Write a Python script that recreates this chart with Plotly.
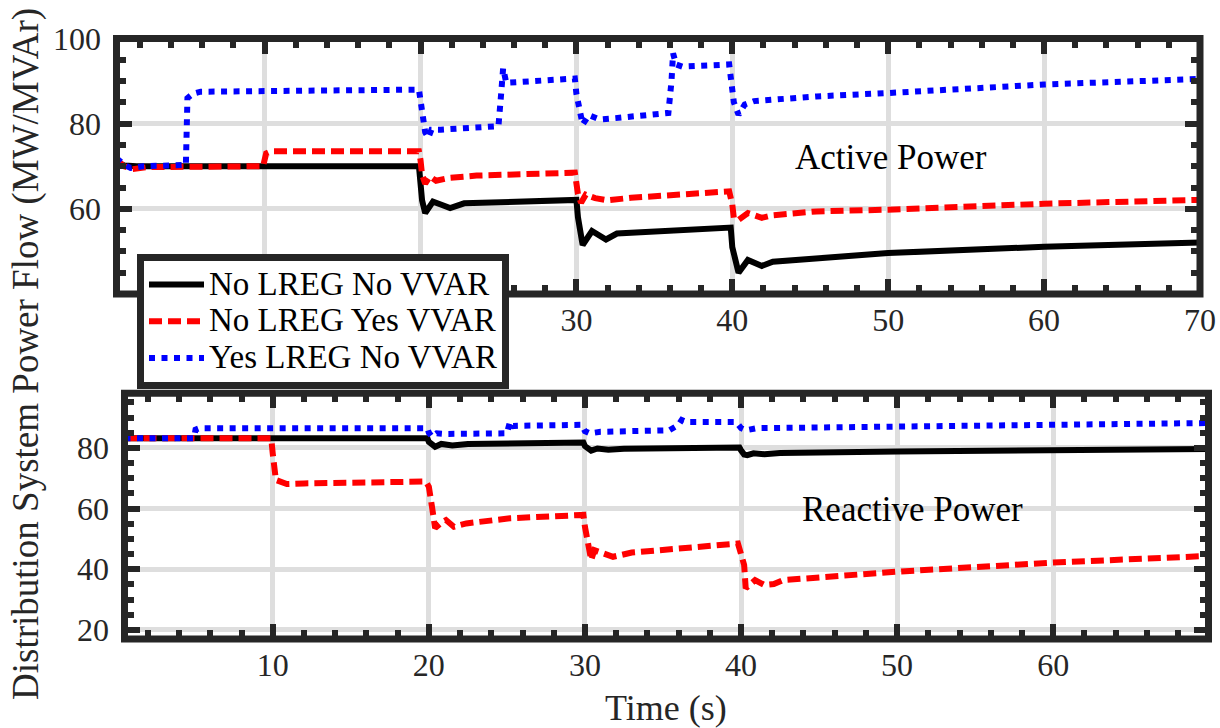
import plotly.graph_objects as go

FONT = "Liberation Serif"
INK = "#262626"

names = ["No LREG No VVAR", "No LREG Yes VVAR", "Yes LREG No VVAR"]

# ---- Active power (top panel) ----
t_p_black = [0.5, 1.0, 1.8, 19.9, 20.0, 20.1, 20.3, 20.8, 21.3, 21.9, 22.8, 30.0, 30.1, 30.2, 30.4, 31.0, 31.9, 32.6, 39.9, 40.0, 40.2, 40.4, 41.0, 41.9, 42.6, 45.0, 50.0, 60.0, 70.0]
p_black = [71.0, 70.2, 70.0, 70.0, 66.0, 62.0, 59.0, 61.7, 61.0, 60.2, 61.3, 62.1, 58.0, 55.0, 51.5, 54.8, 52.8, 54.2, 55.6, 51.0, 48.0, 45.0, 48.0, 46.6, 47.6, 48.3, 49.6, 51.1, 52.1]

t_p_red = [0.5, 1.0, 1.5, 2.5, 9.9, 10.1, 10.4, 19.9, 20.0, 20.1, 20.3, 20.6, 21.0, 21.9, 23.6, 29.9, 30.0, 30.1, 30.3, 30.6, 31.2, 32.0, 33.5, 39.8, 40.0, 40.1, 40.4, 41.0, 41.9, 42.6, 45.4, 50.0, 60.0, 70.0]
p_red = [71.5, 70.0, 69.3, 69.8, 70.0, 73.0, 73.5, 73.5, 71.5, 68.0, 65.9, 67.6, 66.6, 67.3, 67.8, 68.5, 66.0, 63.5, 61.4, 63.3, 62.5, 62.0, 62.6, 64.1, 61.0, 57.8, 57.4, 59.0, 57.9, 58.5, 59.4, 59.8, 61.2, 62.1]

t_p_blue = [0.5, 1.0, 1.4, 2.2, 4.95, 5.05, 5.4, 5.9, 19.9, 20.0, 20.2, 20.3, 20.5, 20.7, 21.3, 25.0, 25.15, 25.3, 25.5, 27.3, 29.9, 30.0, 30.2, 30.4, 30.8, 31.5, 32.5, 35.9, 36.1, 36.2, 36.4, 36.8, 39.8, 40.0, 40.1, 40.4, 40.8, 41.4, 45.4, 50.0, 60.0, 70.0]
p_blue = [71.9, 70.3, 69.6, 70.0, 70.3, 86.0, 87.0, 87.5, 88.0, 85.0, 81.0, 78.0, 76.7, 78.6, 78.6, 79.4, 86.0, 93.0, 89.6, 90.0, 90.6, 87.0, 83.3, 79.8, 82.0, 81.0, 81.3, 82.5, 90.0, 96.5, 93.9, 93.4, 93.9, 88.8, 85.0, 82.1, 84.5, 85.3, 86.4, 87.2, 89.2, 90.5]

# ---- Reactive power (bottom panel) ----
t_q_black = [0.5, 19.9, 20.0, 20.2, 20.4, 20.8, 21.5, 22.5, 29.9, 30.0, 30.2, 30.4, 30.8, 31.5, 32.5, 39.9, 40.0, 40.2, 40.4, 40.8, 41.5, 42.5, 50.0, 60.0, 70.0]
q_black = [83.2, 83.2, 82.0, 81.0, 80.4, 81.3, 80.8, 81.3, 81.8, 80.6, 79.6, 79.1, 79.8, 79.4, 79.7, 80.1, 79.2, 77.8, 77.6, 78.2, 77.9, 78.3, 78.8, 79.2, 79.6]

t_q_red = [0.5, 9.9, 10.0, 10.2, 10.9, 12.0, 19.8, 20.0, 20.2, 20.4, 20.8, 21.1, 21.6, 22.4, 25.2, 29.9, 30.0, 30.2, 30.4, 30.6, 31.2, 31.8, 33.0, 39.8, 40.0, 40.2, 40.3, 40.9, 41.5, 42.1, 42.7, 45.0, 50.0, 60.0, 70.0]
q_red = [83.2, 83.2, 78.0, 69.4, 68.1, 68.3, 68.9, 67.2, 60.6, 53.6, 55.3, 56.2, 54.0, 55.1, 56.8, 57.9, 54.0, 48.0, 43.0, 46.3, 45.2, 44.1, 45.5, 48.5, 45.0, 41.4, 33.7, 36.4, 34.8, 35.1, 36.4, 37.4, 39.2, 42.2, 44.4]

t_q_blue = [0.5, 4.95, 5.05, 5.3, 19.9, 20.0, 20.2, 20.5, 21.0, 25.0, 25.2, 25.4, 25.7, 29.8, 30.0, 30.3, 31.0, 35.4, 36.0, 36.2, 36.5, 39.7, 40.0, 40.3, 41.0, 45.0, 51.0, 60.0, 70.0]
q_blue = [83.2, 83.2, 86.0, 86.5, 86.5, 85.0, 83.7, 84.8, 84.6, 84.8, 88.7, 87.2, 87.3, 87.6, 85.5, 84.8, 85.3, 85.8, 87.6, 89.2, 88.5, 88.5, 86.5, 85.8, 86.5, 86.8, 87.0, 87.6, 88.2]

# tick labels
x_ticks = [10, 20, 30, 40, 50, 60, 70]
x_text_top = ["", "", "30", "40", "50", "60", "70"]   # 10 and 20 sit under the legend
x_text_bot = ["10", "20", "30", "40", "50", "60", "70"]
y_ticks_top = [60, 80, 100]
y_ticks_bot = [20, 40, 60, 80]

W, H = 1220, 728
# panel frames in pixels (left, top, right, bottom)
top_px = (116.5, 38.5, 1200.0, 294.0)
bot_px = (124.5, 393.3, 1208.5, 639.0)


def xd(px):
    return [px[0] / W, px[2] / W]


def yd(px):
    return [1 - px[3] / H, 1 - px[1] / H]


fig = go.Figure()

styles = [
    dict(color="black", width=6),
    dict(color="#ff0000", width=6, dash="13px,6px"),
    dict(color="#0000ff", width=6, dash="6px,6.5px"),
]

top_series = [(t_p_black, p_black), (t_p_red, p_red), (t_p_blue, p_blue)]
bot_series = [(t_q_black, q_black), (t_q_red, q_red), (t_q_blue, q_blue)]

for i, (t, v) in enumerate(top_series):
    fig.add_trace(go.Scatter(x=t, y=v, mode="lines",
                             name='<span style="font-size:33px">' + names[i] + '</span>',
                             line=styles[i], xaxis="x", yaxis="y", showlegend=True))
for i, (t, v) in enumerate(bot_series):
    fig.add_trace(go.Scatter(x=t, y=v, mode="lines", name=names[i], line=styles[i],
                             xaxis="x2", yaxis="y2", showlegend=False))

tickfont = dict(family=FONT, size=32, color=INK)
common_ax = dict(
    showgrid=True, gridcolor="#dedede", gridwidth=5, zeroline=False,
    showline=True, linecolor=INK, linewidth=1, mirror="ticks",
    ticks="inside", ticklen=15, tickwidth=6, tickcolor=INK,
    tickfont=tickfont, automargin=False, tickmode="array",
)
minor_x = dict(ticks="inside", ticklen=9, tickwidth=6, tickcolor=INK, dtick=2, tick0=0, showgrid=False)
minor_y = dict(ticks="inside", ticklen=9, tickwidth=6, tickcolor=INK, dtick=5, tick0=0, showgrid=False)

fig.update_layout(
    width=W, height=H,
    font=dict(family=FONT, color=INK),
    margin=dict(l=0, r=0, t=0, b=0, pad=0),
    plot_bgcolor="white", paper_bgcolor="white",
    xaxis=dict(common_ax, domain=xd(top_px), anchor="y", range=[0.5, 70],
               tickvals=x_ticks, ticktext=x_text_top, ticklabelstandoff=-2, minor=minor_x),
    yaxis=dict(common_ax, domain=yd(top_px), anchor="x", range=[40, 100],
               tickvals=y_ticks_top, ticklabelstandoff=8, minor=minor_y),
    xaxis2=dict(common_ax, domain=xd(bot_px), anchor="y2", range=[0.5, 69.95],
                tickvals=x_ticks, ticktext=x_text_bot, ticklabelstandoff=-2, minor=minor_x),
    yaxis2=dict(common_ax, domain=yd(bot_px), anchor="x2", range=[17, 98],
                tickvals=y_ticks_bot, ticklabelstandoff=8, minor=minor_y),
    legend=dict(
        x=137 / W, y=1 - 254 / H, xanchor="left", yanchor="top",
        bgcolor="white", bordercolor=INK, borderwidth=7,
        font=dict(family=FONT, size=26, color="black"),
        itemwidth=55, tracegroupgap=0,
    ),
    showlegend=True,
)

# panel frames (box drawn over the data, like the original)
for px in (top_px, bot_px):
    fig.add_shape(type="rect", xref="paper", yref="paper",
                  x0=px[0] / W, x1=px[2] / W, y0=1 - px[3] / H, y1=1 - px[1] / H,
                  line=dict(color=INK, width=7), fillcolor="rgba(0,0,0,0)", layer="above")

ann = dict(xref="paper", yref="paper", showarrow=False, xanchor="center", yanchor="middle")
fig.add_annotation(text="Active Power", x=891 / W, y=1 - 157 / H,
                   font=dict(family=FONT, size=35, color="black"), **ann)
fig.add_annotation(text="Reactive Power", x=912 / W, y=1 - 510 / H,
                   font=dict(family=FONT, size=35, color="black"), **ann)
fig.add_annotation(text="Distribution System Power Flow (MW/MVAr)", x=26 / W, y=1 - 354 / H,
                   textangle=-90, font=dict(family=FONT, size=37, color=INK), **ann)
fig.add_annotation(text="Time (s)", x=666 / W, y=1 - 708 / H,
                   font=dict(family=FONT, size=36, color=INK), **ann)

fig.write_html("out.html", config={"displayModeBar": False},
               post_script="document.body.style.margin='0px';")
